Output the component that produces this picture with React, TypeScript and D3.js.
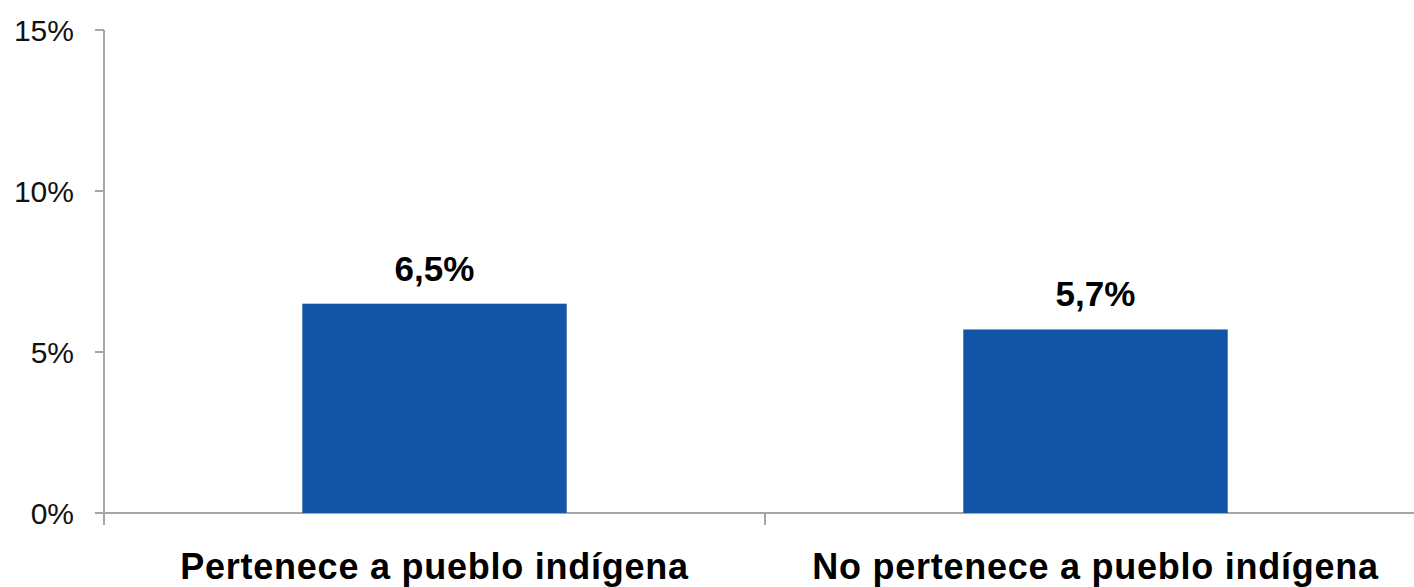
import * as d3 from 'd3';

const categories = ['Pertenece a pueblo indígena', 'No pertenece a pueblo indígena'];
const values = [6.5, 5.7];
const valueLabels = ['6,5%', '5,7%'];
const yTicks = [0, 5, 10, 15];

const width = 1414;
const height = 587;
const margin = { top: 30, right: -12, bottom: 74, left: 104 };

export default function App() {
    // Declare the x (band) scale.
    const x = d3.scaleBand()
        .domain(categories)
        .range([margin.left, width - margin.right])
        .paddingInner(0.6)
        .paddingOuter(0.3);

    // Declare the y (vertical position) scale.
    const y = d3.scaleLinear()
        .domain([0, 15])
        .range([height - margin.bottom, margin.top]);

    const axisColor = '#a6a6a6';
    const font = '"Liberation Sans", Arial, sans-serif';
    const y0 = y(0);

    return (
        <svg width={width} height={height} viewBox={`0 0 ${width} ${height}`}
            style={{ position: 'absolute', left: 0, top: 0, background: '#fff' }}
            fontFamily={font}>
            {/* y axis */}
            <line x1={margin.left} x2={margin.left} y1={y(15)} y2={y0} stroke={axisColor} strokeWidth={2} />
            {yTicks.map(t => (
                <g key={t}>
                    <line x1={margin.left - 9} x2={margin.left} y1={y(t)} y2={y(t)} stroke={axisColor} strokeWidth={2} />
                    <text x={74} y={y(t)} dy="0.36em" textAnchor="end" fontSize={30} fill="#111">{t}%</text>
                </g>
            ))}
            {/* x axis */}
            <line x1={margin.left} x2={width - margin.right} y1={y0} y2={y0} stroke={axisColor} strokeWidth={2} />
            {d3.range(categories.length + 1).map(i => {
                const tx = margin.left + i * (width - margin.right - margin.left) / categories.length;
                return <line key={i} x1={tx} x2={tx} y1={y0} y2={y0 + 12} stroke={axisColor} strokeWidth={2} />;
            })}
            {/* bars */}
            {categories.map((c, i) => (
                <g key={c}>
                    <rect x={x(c)} y={y(values[i])} width={x.bandwidth()} height={y0 - y(values[i])} fill="#1254a6" />
                    <text x={(x(c) ?? 0) + x.bandwidth() / 2} y={y(values[i]) - 23} textAnchor="middle"
                        fontSize={35} fontWeight="bold" fill="#000">{valueLabels[i]}</text>
                    <text x={(x(c) ?? 0) + x.bandwidth() / 2} y={579} textAnchor="middle"
                        fontSize={36} fontWeight="bold" fill="#000" letterSpacing={0.75}>{c}</text>
                </g>
            ))}
        </svg>
    );
}
